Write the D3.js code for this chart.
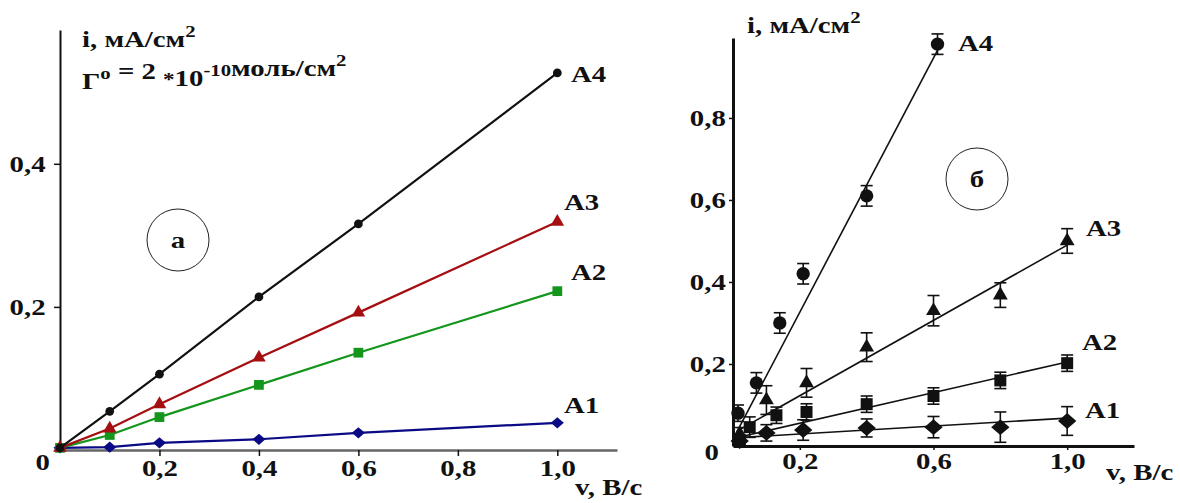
<!DOCTYPE html>
<html>
<head>
<meta charset="utf-8">
<script src="https://cdn.jsdelivr.net/npm/d3@7"></script>
<style>
  body { margin: 0; background: #fff; }
  svg { display: block; }
  text { font-family: "Liberation Serif", "Times New Roman", serif; font-weight: bold; fill: #111; }
</style>
</head>
<body>
<svg id="chart"></svg>
<script>
var width = 1180;
var height = 503;

// panel a
var vLeft = [0, 0.1, 0.2, 0.4, 0.6, 1.0];
var leftA1 = [0.003, 0.004, 0.01, 0.015, 0.024, 0.038];
var leftA2 = [0.003, 0.021, 0.046, 0.091, 0.136, 0.222];
var leftA3 = [0.003, 0.03, 0.064, 0.129, 0.192, 0.319];
var leftA4 = [0.003, 0.054, 0.106, 0.214, 0.316, 0.527];
var leftXTicks = [0.2, 0.4, 0.6, 0.8, 1.0];
var leftYTicks = [0.2, 0.4];

// panel б (points with error bars + fitted lines)
var rA4x = [0.015, 0.07, 0.14, 0.21, 0.4, 0.612];
var rA4y = [0.08, 0.154, 0.30, 0.42, 0.61, 0.98];
var rA4e = [0.02, 0.025, 0.025, 0.025, 0.025, 0.025];
var rA3x = [0.02, 0.1, 0.22, 0.4, 0.6, 0.8, 1.0];
var rA3y = [0.03, 0.112, 0.154, 0.241, 0.33, 0.368, 0.50];
var rA3e = [0.015, 0.035, 0.035, 0.035, 0.037, 0.03, 0.03];
var rA2x = [0.02, 0.05, 0.13, 0.22, 0.4, 0.6, 0.8, 1.0];
var rA2y = [0.015, 0.046, 0.075, 0.083, 0.102, 0.122, 0.16, 0.202];
var rA2e = [0.01, 0.025, 0.02, 0.02, 0.02, 0.02, 0.02, 0.02];
var rA1x = [0.02, 0.1, 0.21, 0.4, 0.6, 0.8, 1.0];
var rA1y = [0.012, 0.032, 0.039, 0.044, 0.046, 0.046, 0.061];
var rA1e = [0.01, 0.02, 0.025, 0.022, 0.026, 0.037, 0.035];
var fitA4 = [[0.012, 0.035], [0.612, 0.965]];
var fitA3 = [[0.02, 0.04], [1.0, 0.49]];
var fitA2 = [[0.02, 0.022], [1.0, 0.205]];
var fitA1 = [[0.01, 0.02], [1.0, 0.068]];
var rightXTicks = [0.2, 0.6, 1.0];
var rightYTicks = [0.2, 0.4, 0.6, 0.8];

var fmt = function(d) { return d3.format(".1f")(d).replace(".", ","); };
var sx = 1.2; // type in the picture is horizontally wide

var svg = d3.select("#chart").attr("width", width).attr("height", height);
svg.append("rect").attr("width", width).attr("height", height).attr("fill", "#fff");

// custom wide diamond
var diamond = {
  draw: function(ctx, size) {
    var w = Math.sqrt(size) * 0.75, h = Math.sqrt(size) * 0.65;
    ctx.moveTo(-w, 0); ctx.lineTo(0, -h); ctx.lineTo(w, 0); ctx.lineTo(0, h); ctx.closePath();
  }
};

// parts: plain strings, {sup: "..."} superscripts, {mid: "..."} small lowered glyphs
function label(x, y, parts, size, anchor) {
  var g = svg.append("g").attr("transform", `translate(${x},${y}) scale(${sx},1)`);
  var t = g.append("text").attr("font-size", size).attr("text-anchor", anchor || "start");
  parts.forEach(function(p) {
    if (typeof p === "string") {
      t.append("tspan").text(p);
    } else if (p.sup) {
      t.append("tspan").attr("font-size", size * 0.72).attr("dy", -size * 0.42).text(p.sup);
      t.append("tspan").attr("dy", size * 0.42).text("");
    } else {
      t.append("tspan").attr("font-size", size * 0.8).attr("dy", size * 0.3).text(p.mid);
      t.append("tspan").attr("dy", -size * 0.3).text("");
    }
  });
  return g;
}

function styleAxis(g, sw) {
  g.select(".domain").attr("stroke", "#111").attr("stroke-width", sw);
  g.selectAll(".tick line").attr("stroke", "#111").attr("stroke-width", 1.5);
  g.selectAll(".tick text")
    .attr("font-size", 24)
    .attr("fill", "#111")
    .attr("transform", `scale(${sx},1)`);
}

// ---------- panel a ----------
var xL = d3.scaleLinear().domain([0, 1.12]).range([60, 617]);
var yL = d3.scaleLinear().domain([0, 0.587]).range([450, 30]);

var axL = svg.append("g")
  .attr("transform", `translate(0,${yL(0)})`)
  .call(d3.axisBottom(xL).tickValues(leftXTicks).tickSize(6).tickSizeOuter(0).tickPadding(3).tickFormat(fmt));
styleAxis(axL, 2.5);
axL.select(".domain").attr("stroke", "#666");

var ayL = svg.append("g")
  .attr("transform", `translate(${xL(0)},0)`)
  .call(d3.axisLeft(yL).tickValues(leftYTicks).tickSize(6).tickSizeOuter(0).tickPadding(6).tickFormat(fmt));
styleAxis(ayL, 2);

label(xL(0) - 10, yL(0) + 20, ["0"], 24, "end");

var leftSeries = [
  {name: "A1", y: leftA1, color: "#0a0a85", type: diamond, size: 75},
  {name: "A2", y: leftA2, color: "#13961b", type: d3.symbolSquare, size: 95},
  {name: "A3", y: leftA3, color: "#a50f12", type: d3.symbolTriangle, size: 80},
  {name: "A4", y: leftA4, color: "#111", type: d3.symbolCircle, size: 60}
];

var lineL = d3.line().x(function(d) { return xL(d[0]); }).y(function(d) { return yL(d[1]); });

leftSeries.forEach(function(s) {
  var pts = vLeft.map(function(v, i) { return [v, s.y[i]]; });
  svg.append("path").datum(pts)
    .attr("d", lineL).attr("fill", "none")
    .attr("stroke", s.color).attr("stroke-width", 2.2);
  svg.append("g").selectAll("path").data(pts).enter().append("path")
    .attr("transform", function(d) { return `translate(${xL(d[0])},${yL(d[1])})`; })
    .attr("d", d3.symbol().type(s.type).size(s.size))
    .attr("fill", s.color);
});

label(571, 82, ["A4"], 24);
label(564, 210, ["A3"], 24);
label(571, 280, ["A2"], 24);
label(564, 413, ["A1"], 24);

label(82, 47, ["i, мА/см", {sup: "2"}], 24);
label(82, 89, ["Γ", {sup: "o"}, " = 2 ", {mid: "*"}, "10", {sup: "-10"}, "моль/см", {sup: "2"}], 24);

svg.append("circle").attr("cx", 178).attr("cy", 240).attr("r", 31)
  .attr("fill", "none").attr("stroke", "#222").attr("stroke-width", 1);
label(178, 248, ["а"], 24, "middle");

label(575, 495, ["v, В/с"], 24);

// ---------- panel б ----------
var xR = d3.scaleLinear().domain([0, 1.2]).range([733, 1134]);
var yR = d3.scaleLinear().domain([0, 0.995]).range([446, 38]);

var axR = svg.append("g")
  .attr("transform", `translate(0,${yR(0)})`)
  .call(d3.axisBottom(xR).tickValues(rightXTicks).tickSize(4).tickSizeOuter(0).tickPadding(2).tickFormat(fmt));
styleAxis(axR, 3);

var ayR = svg.append("g")
  .attr("transform", `translate(${xR(0)},0)`)
  .call(d3.axisLeft(yR).tickValues(rightYTicks).tickSize(4).tickSizeOuter(0).tickPadding(2).tickFormat(fmt));
styleAxis(ayR, 3);

label(xR(0) - 14, yR(0) + 14, ["0"], 24, "end");

var rightSeries = [
  {x: rA1x, y: rA1y, e: rA1e, fit: fitA1, type: diamond, size: 150},
  {x: rA2x, y: rA2y, e: rA2e, fit: fitA2, type: d3.symbolSquare, size: 144},
  {x: rA3x, y: rA3y, e: rA3e, fit: fitA3, type: d3.symbolTriangle, size: 95},
  {x: rA4x, y: rA4y, e: rA4e, fit: fitA4, type: d3.symbolCircle, size: 140}
];

var lineR = d3.line().x(function(d) { return xR(d[0]); }).y(function(d) { return yR(d[1]); });

rightSeries.forEach(function(s) {
  svg.append("path").datum(s.fit)
    .attr("d", lineR).attr("fill", "none")
    .attr("stroke", "#111").attr("stroke-width", 1.6);
  var pts = s.x.map(function(v, i) { return {x: v, y: s.y[i], e: s.e[i]}; });
  var g = svg.append("g");
  var eb = g.selectAll("g.eb").data(pts).enter().append("g")
    .attr("stroke", "#111").attr("stroke-width", 1.6);
  eb.append("line")
    .attr("x1", function(d) { return xR(d.x); }).attr("x2", function(d) { return xR(d.x); })
    .attr("y1", function(d) { return yR(d.y - d.e); }).attr("y2", function(d) { return yR(d.y + d.e); });
  eb.append("line")
    .attr("x1", function(d) { return xR(d.x) - 6; }).attr("x2", function(d) { return xR(d.x) + 6; })
    .attr("y1", function(d) { return yR(d.y + d.e); }).attr("y2", function(d) { return yR(d.y + d.e); });
  eb.append("line")
    .attr("x1", function(d) { return xR(d.x) - 6; }).attr("x2", function(d) { return xR(d.x) + 6; })
    .attr("y1", function(d) { return yR(d.y - d.e); }).attr("y2", function(d) { return yR(d.y - d.e); });
  g.selectAll("path").data(pts).enter().append("path")
    .attr("transform", function(d) { return `translate(${xR(d.x)},${yR(d.y)})`; })
    .attr("d", d3.symbol().type(s.type).size(s.size))
    .attr("fill", "#111");
});

label(958, 51, ["A4"], 24);
label(1086, 236, ["A3"], 24);
label(1082, 350, ["A2"], 24);
label(1085, 418, ["A1"], 24);

label(747, 33, ["i, мА/см", {sup: "2"}], 24);

svg.append("circle").attr("cx", 977).attr("cy", 179).attr("r", 31)
  .attr("fill", "none").attr("stroke", "#222").attr("stroke-width", 1);
label(977, 187, ["б"], 24, "middle");

label(1106, 480, ["v, В/с"], 24);
</script>
</body>
</html>
